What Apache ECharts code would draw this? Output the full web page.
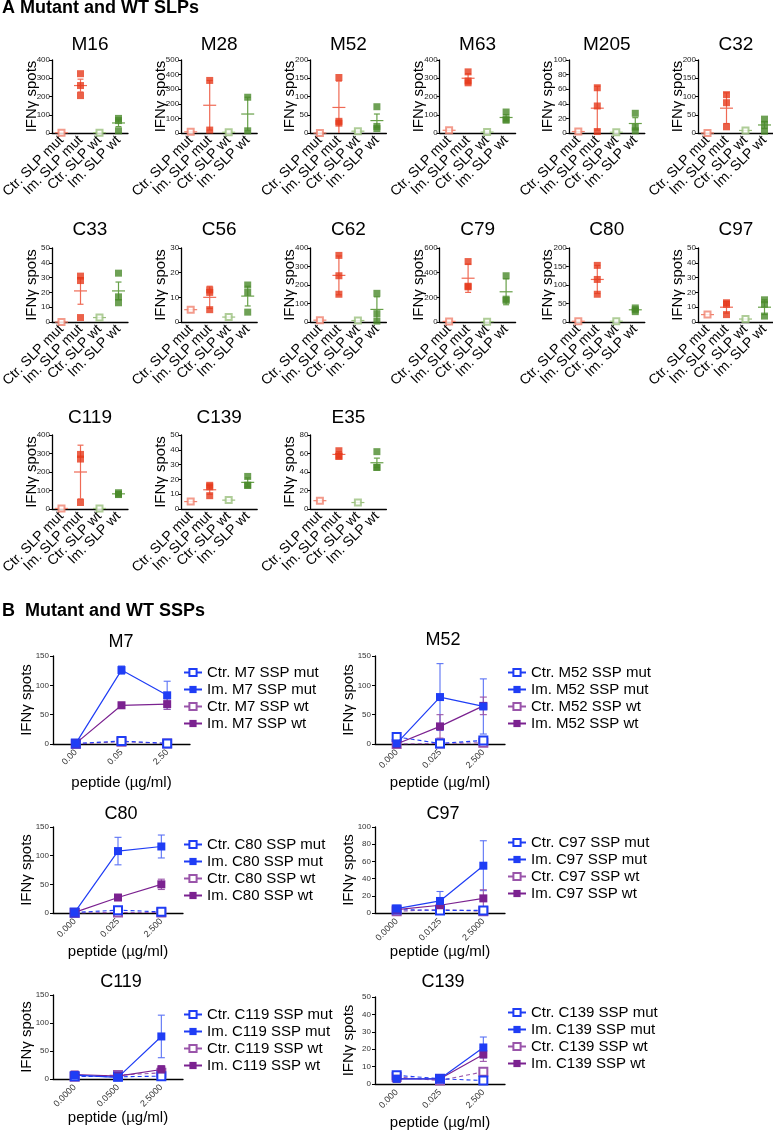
<!DOCTYPE html>
<html><head><meta charset="utf-8">
<script src="https://cdn.jsdelivr.net/npm/echarts@6/dist/echarts.min.js"></script>
<style>html,body{margin:0;padding:0;background:#fff}#c{width:773px;height:1132px}</style>
</head><body><div id="c"></div><script>
// ---------- Panel A data (SLPs) ----------
const slpCategories = ['Ctr. SLP mut', 'Im. SLP mut', 'Ctr. SLP wt', 'Im. SLP wt'];
const slpPanels = ['M16','M28','M52','M63','M205','C32','C33','C56','C62','C79','C80','C97','C119','C139','E35'];
const slpYMax  = [400,500,200,400,100,200,50,30,400,600,200,50,400,50,80];
const slpYStep = [100,100,50,100,20,50,10,10,100,200,50,10,100,10,20];
const slpCtrMut = [2,8,0,15,2,0,0,5,10,5,2,5,3,5,9];
const slpImMut = [[325,260,205],[360,20],[152,27,32],[335,275,285],[62,37,2],[105,83,17],
                  [31,28,3],[13,12,5],[360,250,150],[490,285,290],[153,115,75],[13,12,5],
                  [295,270,35],[16,15,9],[63,57,57]];
const slpImMutMean = [260,190,70,300,34,68,21,10,252,355,115,10,200,13,59];
const slpImMutErr  = [35,170,72,25,30,42,9,4.5,105,115,38,4,145,3,3];
const slpCtrWt = [2,5,5,5,1,7,3,2,8,3,2,2,3,6,7];
const slpImWt = [[80,68,12],[245,15],[72,12,18],[115,70,75],[27,3,8],[38,5,23],
                 [33,17,13],[15,12,4],[155,45,5],[375,185,175],[38,33,28],[15,12,4],
                 [88,80,78],[22,16,16],[62,45,45]];
const slpImWtMean = [55,130,34,85,13,22,21,10.5,68,245,33,10,82,18,50];
const slpImWtErr  = [20,115,18,15,8,10,6,4,68,105,4,5,3,3,5];

// ---------- Panel B data (SSPs) ----------
const sspPanels = ['M7','M52','C80','C97','C119','C139'];
const sspDoses = [['0.00','0.05','2.50'],['0.000','0.025','2.500'],['0.000','0.025','2.500'],
                  ['0.0000','0.0125','2.5000'],['0.0000','0.0500','2.5000'],['0.000','0.025','2.500']];
const sspYMax  = [150,150,150,100,150,50];
const sspYStep = [50,50,50,20,50,10];
const sspCtrMut = [[1,5,1],[12,1,6],[1,5,2],[4,3,3],[5,4,5],[5,3,2]];
const sspImMut  = [[1,126,83],[1,80,64],[1,108,116],[5,14,55],[7,3,76],[3,3,21]];
const sspImMutErr = [[0,7,24],[0,57,47],[0,24,20],[0,11,29],[2,1,38],[0,1,6]];
const sspCtrWt = [[0,4,1],[0,1,2],[0,1,1],[2,4,2],[4,7,11],[4,2,7]];
const sspImWt  = [[1,66,68],[0,30,65],[1,27,50],[4,9,17],[8,5,17],[3,3,17]];
const sspImWtErr = [[0,5,9],[0,20,15],[0,3,9],[0,3,10],[0,1,7],[0,1,4]];

// ---------- styling ----------
const FONT = '"Liberation Sans", Arial, Helvetica, sans-serif';
const RED = '#e63a1c', RED_L = '#f0826f', RED_M = '#ef6a55';
const GREEN = '#4a8a2a', GREEN_L = '#9bc07e', GREEN_M = '#67a048';
const BLUE = '#1f3df5', BLUE_M = '#5a72f5', PURPLE = '#7b2290', PURPLE_M = '#9a55aa';

const titles = [], grids = [], xAxes = [], yAxes = [], series = [], legends = [];

function makeRender(colors, halfMean, halfCap, lw) {
  return function (params, api) {
    const x = api.value(0), m = api.value(1), e = api.value(2), ci = api.value(3);
    const col = colors[ci];
    const p = api.coord([x, m]);
    const ch = [];
    if (halfMean > 0) ch.push({type:'line', shape:{x1:p[0]-halfMean, y1:p[1], x2:p[0]+halfMean, y2:p[1]}, style:{stroke:col, lineWidth:lw}});
    if (e > 0) {
      const hi = api.coord([x, m + e]);
      const lo = api.coord([x, Math.max(0, m - e)]);
      ch.push({type:'line', shape:{x1:p[0], y1:hi[1], x2:p[0], y2:lo[1]}, style:{stroke:col, lineWidth:lw}});
      ch.push({type:'line', shape:{x1:p[0]-halfCap, y1:hi[1], x2:p[0]+halfCap, y2:hi[1]}, style:{stroke:col, lineWidth:lw}});
      if (m - e > 0) ch.push({type:'line', shape:{x1:p[0]-halfCap, y1:lo[1], x2:p[0]+halfCap, y2:lo[1]}, style:{stroke:col, lineWidth:lw}});
    }
    return {type:'group', children: ch};
  };
}

// ---------- Panel A layout ----------
const aRowTop = [60, 248, 435], aRowH = [73, 74, 74], aTitleTop = [35, 220, 408];
slpPanels.forEach((name, i) => {
  const r = Math.floor(i / 6), c = i % 6;
  const left = 52 + c * 129.2, w = 76;
  const gi = grids.length;
  grids.push({left: left, top: aRowTop[r], width: w, height: aRowH[r], outerBoundsMode: 'none', containLabel: false});
  titles.push({text: name, left: left + w / 2, top: aTitleTop[r], textAlign: 'center', padding: 0,
               textStyle: {fontSize: 19, fontWeight: 'normal', fontFamily: FONT, color: '#000'}});
  xAxes.push({gridIndex: gi, type: 'category', data: slpCategories, boundaryGap: true,
    axisLine: {lineStyle: {color: '#000', width: 1.3}},
    axisTick: {alignWithLabel: true, length: 3, lineStyle: {color: '#000'}},
    axisLabel: {rotate: 45, interval: 0, fontSize: 14, color: '#000', fontFamily: FONT, margin: 5},
    splitLine: {show: false}});
  yAxes.push({gridIndex: gi, type: 'value', min: 0, max: slpYMax[i], interval: slpYStep[i],
    axisLine: {show: true, lineStyle: {color: '#000', width: 1.3}},
    axisTick: {show: true, length: 3, lineStyle: {color: '#000'}},
    axisLabel: {fontSize: 8, color: '#222', fontFamily: FONT, margin: 2},
    splitLine: {show: false},
    name: 'IFNγ spots', nameLocation: 'middle', nameRotate: 90, nameGap: 13, nameMoveOverlap: false,
    nameTextStyle: {fontSize: 15, fontFamily: FONT, color: '#000'}});
  series.push({type: 'custom', xAxisIndex: gi, yAxisIndex: gi, clip: false, z: 1,
    renderItem: makeRender([RED_L, RED_M, GREEN_L, GREEN_M], 6.5, 3, 1.2),
    data: [[0, slpCtrMut[i], 0, 0], [1, slpImMutMean[i], slpImMutErr[i], 1],
           [2, slpCtrWt[i], 0, 2], [3, slpImWtMean[i], slpImWtErr[i], 3]]});
  series.push({type: 'scatter', xAxisIndex: gi, yAxisIndex: gi, symbol: 'emptyRect', symbolSize: 6, z: 3,
    itemStyle: {color: RED_L, borderWidth: 1.2}, data: [[0, slpCtrMut[i]]]});
  series.push({type: 'scatter', xAxisIndex: gi, yAxisIndex: gi, symbol: 'rect', symbolSize: 7, z: 3,
    itemStyle: {color: RED}, data: slpImMut[i].map(v => [1, v])});
  series.push({type: 'scatter', xAxisIndex: gi, yAxisIndex: gi, symbol: 'emptyRect', symbolSize: 6, z: 3,
    itemStyle: {color: GREEN_L, borderWidth: 1.2}, data: [[2, slpCtrWt[i]]]});
  series.push({type: 'scatter', xAxisIndex: gi, yAxisIndex: gi, symbol: 'rect', symbolSize: 7, z: 3,
    itemStyle: {color: GREEN}, data: slpImWt[i].map(v => [3, v])});
});

// ---------- Panel B layout ----------
const bGrid = [
  {l: 53, t: 656, w: 137, h: 88, tt: 633, lgL: 183, lgT: 665},
  {l: 375, t: 656, w: 130, h: 88, tt: 631, lgL: 507, lgT: 665},
  {l: 53, t: 827, w: 130, h: 86, tt: 805, lgL: 183, lgT: 837},
  {l: 375, t: 827, w: 130, h: 86, tt: 805, lgL: 507, lgT: 835},
  {l: 53, t: 995, w: 130, h: 84, tt: 973, lgL: 183, lgT: 1007},
  {l: 375, t: 997, w: 130, h: 87, tt: 973, lgL: 507, lgT: 1005}
];
sspPanels.forEach((name, i) => {
  const g = bGrid[i];
  const gi = grids.length;
  grids.push({left: g.l, top: g.t, width: g.w, height: g.h, outerBoundsMode: 'none', containLabel: false});
  titles.push({text: name, left: g.l + 68, top: g.tt, textAlign: 'center', padding: 0,
               textStyle: {fontSize: 18, fontWeight: 'normal', fontFamily: FONT, color: '#000'}});
  xAxes.push({gridIndex: gi, type: 'category', data: sspDoses[i], boundaryGap: true,
    axisLine: {lineStyle: {color: '#000', width: 1.3}},
    axisTick: {alignWithLabel: true, length: 3, lineStyle: {color: '#000'}},
    axisLabel: {rotate: 45, interval: 0, fontSize: 9, color: '#333', fontFamily: FONT, margin: 7},
    splitLine: {show: false},
    name: 'peptide (µg/ml)', nameLocation: 'middle', nameGap: 31, nameMoveOverlap: false,
    nameTextStyle: {fontSize: 15, fontFamily: FONT, color: '#000'}});
  yAxes.push({gridIndex: gi, type: 'value', min: 0, max: sspYMax[i], interval: sspYStep[i],
    axisLine: {show: true, lineStyle: {color: '#000', width: 1.3}},
    axisTick: {show: true, length: 3, lineStyle: {color: '#000'}},
    axisLabel: {fontSize: 8, color: '#333', fontFamily: FONT, margin: 4},
    splitLine: {show: false},
    name: 'IFNγ spots', nameLocation: 'middle', nameRotate: 90, nameGap: 19, nameMoveOverlap: false,
    nameTextStyle: {fontSize: 15, fontFamily: FONT, color: '#000'}});
  const n1 = 'Ctr. ' + name + ' SSP mut', n2 = 'Im. ' + name + ' SSP mut',
        n3 = 'Ctr. ' + name + ' SSP wt', n4 = 'Im. ' + name + ' SSP wt';
  const errData = [];
  sspImMut[i].forEach((v, k) => errData.push([k, v, sspImMutErr[i][k], 0]));
  sspImWt[i].forEach((v, k) => errData.push([k, v, sspImWtErr[i][k], 1]));
  series.push({type: 'custom', xAxisIndex: gi, yAxisIndex: gi, clip: false, z: 1,
    renderItem: makeRender([BLUE_M, PURPLE_M], 0, 3.5, 1.1), data: errData});
  series.push({type: 'line', name: n3, xAxisIndex: gi, yAxisIndex: gi, data: sspCtrWt[i],
    symbol: 'emptyRect', symbolSize: 8, z: 2,
    lineStyle: {color: PURPLE_M, width: 1.1, type: [4, 3]}, itemStyle: {color: PURPLE_M, borderWidth: 1.3}});
  series.push({type: 'line', name: n1, xAxisIndex: gi, yAxisIndex: gi, data: sspCtrMut[i],
    symbol: 'emptyRect', symbolSize: 8, z: 2,
    lineStyle: {color: BLUE, width: 1.1, type: [4, 3]}, itemStyle: {color: BLUE, borderWidth: 1.3}});
  series.push({type: 'line', name: n4, xAxisIndex: gi, yAxisIndex: gi, data: sspImWt[i],
    symbol: 'rect', symbolSize: 8, z: 3,
    lineStyle: {color: PURPLE, width: 1.2}, itemStyle: {color: PURPLE}});
  series.push({type: 'line', name: n2, xAxisIndex: gi, yAxisIndex: gi, data: sspImMut[i],
    symbol: 'rect', symbolSize: 8, z: 4,
    lineStyle: {color: BLUE, width: 1.2}, itemStyle: {color: BLUE}});
  legends.push({data: [n1, n2, n3, n4], orient: 'vertical', left: g.lgL, top: g.lgT, padding: 0,
    itemWidth: 18, itemHeight: 9, itemGap: 2, selectedMode: false,
    lineStyle: {type: 'solid'},
    textStyle: {fontSize: 15, fontFamily: FONT, color: '#000', lineHeight: 15}});
});

const chart = echarts.init(document.getElementById('c'), null, {renderer: 'canvas'});
chart.setOption({
  animation: false,
  backgroundColor: '#fff',
  title: titles, grid: grids, xAxis: xAxes, yAxis: yAxes, series: series, legend: legends,
  graphic: [
    {type: 'text', left: 2, top: -1, style: {text: 'A Mutant and WT SLPs', font: 'bold 18px ' + FONT, fill: '#000'}},
    {type: 'text', left: 2, top: 602, style: {text: 'B  Mutant and WT SSPs', font: 'bold 18px ' + FONT, fill: '#000'}}
  ]
});
</script></body></html>
